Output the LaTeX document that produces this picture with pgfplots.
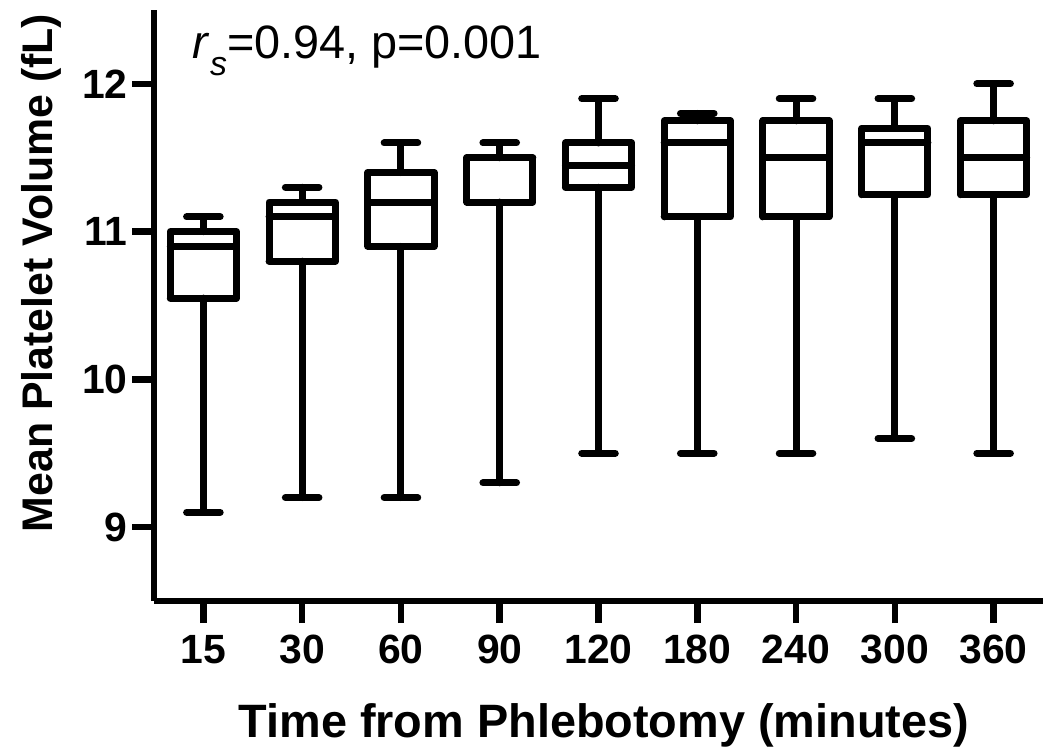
\documentclass[border=0pt]{standalone}
\usepackage{fontspec}
\setmainfont{Liberation Sans}
\usepackage{pgfplots}
\pgfplotsset{compat=1.18}
\begin{document}
\begin{tikzpicture}
\begin{axis}[
  scale only axis,
  width=444.5bp, height=295.5bp,
  xmin=-0.5, xmax=8.5, ymin=8.5, ymax=12.5,
  axis lines*=left,
  axis line style={line width=3.3bp, line cap=square},
  tick align=outside,
  major tick length=11bp,
  tick style={line width=3.3bp, black},
  xtick={0,1,2,3,4,5,6,7,8},
  xticklabels={15,30,60,90,120,180,240,300,360},
  ytick={9,10,11,12},
  /pgf/number format/assume math mode=true,
  ticklabel style={font=\bfseries\fontsize{20.5}{24}\selectfont},
  xticklabel style={inner sep=6bp},
  yticklabel style={inner sep=2bp},
  xlabel={Time from Phlebotomy (minutes)},
  ylabel={Mean Platelet Volume (fL)},
  xlabel style={font=\bfseries\fontsize{23.5}{28}\selectfont, at={([yshift=-68bp]axis description cs:0.506,0)}, anchor=base},
  ylabel style={font=\bfseries\fontsize{21.5}{26}\selectfont, at={([xshift=-56.5bp]axis description cs:0,0.555)}, anchor=center},
  unbounded coords=jump,
  clip=false,
]
% Each box: box outline, median, upper whisker + cap, lower whisker + cap
% 15 min: lw 9.1, lq 10.55, med 10.9, uq 11.0, uw 11.1
\addplot[black, line width=3.5bp, line join=round, line cap=round, mark=none] coordinates {
 (-0.335,10.55) (0.335,10.55) (0.335,11.0) (-0.335,11.0) (-0.335,10.55) (0,nan)
 (-0.335,10.9) (0.335,10.9) (0,nan)
 (0,11.0) (0,11.1) (0,nan) (-0.17,11.1) (0.17,11.1) (0,nan)
 (0,10.55) (0,9.1) (0,nan) (-0.17,9.1) (0.17,9.1)};
% 30 min: 9.2, 10.8, 11.1, 11.2, 11.3
\addplot[black, line width=3.5bp, line join=round, line cap=round, mark=none] coordinates {
 (0.665,10.8) (1.335,10.8) (1.335,11.2) (0.665,11.2) (0.665,10.8) (1,nan)
 (0.665,11.1) (1.335,11.1) (1,nan)
 (1,11.2) (1,11.3) (1,nan) (0.83,11.3) (1.17,11.3) (1,nan)
 (1,10.8) (1,9.2) (1,nan) (0.83,9.2) (1.17,9.2)};
% 60 min: 9.2, 10.9, 11.2, 11.4, 11.6
\addplot[black, line width=3.5bp, line join=round, line cap=round, mark=none] coordinates {
 (1.665,10.9) (2.335,10.9) (2.335,11.4) (1.665,11.4) (1.665,10.9) (2,nan)
 (1.665,11.2) (2.335,11.2) (2,nan)
 (2,11.4) (2,11.6) (2,nan) (1.83,11.6) (2.17,11.6) (2,nan)
 (2,10.9) (2,9.2) (2,nan) (1.83,9.2) (2.17,9.2)};
% 90 min: 9.3, 11.2, 11.5, 11.5, 11.6
\addplot[black, line width=3.5bp, line join=round, line cap=round, mark=none] coordinates {
 (2.665,11.2) (3.335,11.2) (3.335,11.5) (2.665,11.5) (2.665,11.2) (3,nan)
 (2.665,11.5) (3.335,11.5) (3,nan)
 (3,11.5) (3,11.6) (3,nan) (2.83,11.6) (3.17,11.6) (3,nan)
 (3,11.2) (3,9.3) (3,nan) (2.83,9.3) (3.17,9.3)};
% 120 min: 9.5, 11.3, 11.45, 11.6, 11.9
\addplot[black, line width=3.5bp, line join=round, line cap=round, mark=none] coordinates {
 (3.665,11.3) (4.335,11.3) (4.335,11.6) (3.665,11.6) (3.665,11.3) (4,nan)
 (3.665,11.45) (4.335,11.45) (4,nan)
 (4,11.6) (4,11.9) (4,nan) (3.83,11.9) (4.17,11.9) (4,nan)
 (4,11.3) (4,9.5) (4,nan) (3.83,9.5) (4.17,9.5)};
% 180 min: 9.5, 11.1, 11.6, 11.75, 11.8
\addplot[black, line width=3.5bp, line join=round, line cap=round, mark=none] coordinates {
 (4.665,11.1) (5.335,11.1) (5.335,11.75) (4.665,11.75) (4.665,11.1) (5,nan)
 (4.665,11.6) (5.335,11.6) (5,nan)
 (5,11.75) (5,11.8) (5,nan) (4.83,11.8) (5.17,11.8) (5,nan)
 (5,11.1) (5,9.5) (5,nan) (4.83,9.5) (5.17,9.5)};
% 240 min: 9.5, 11.1, 11.5, 11.75, 11.9
\addplot[black, line width=3.5bp, line join=round, line cap=round, mark=none] coordinates {
 (5.665,11.1) (6.335,11.1) (6.335,11.75) (5.665,11.75) (5.665,11.1) (6,nan)
 (5.665,11.5) (6.335,11.5) (6,nan)
 (6,11.75) (6,11.9) (6,nan) (5.83,11.9) (6.17,11.9) (6,nan)
 (6,11.1) (6,9.5) (6,nan) (5.83,9.5) (6.17,9.5)};
% 300 min: 9.6, 11.25, 11.6, 11.7, 11.9
\addplot[black, line width=3.5bp, line join=round, line cap=round, mark=none] coordinates {
 (6.665,11.25) (7.335,11.25) (7.335,11.7) (6.665,11.7) (6.665,11.25) (7,nan)
 (6.665,11.6) (7.335,11.6) (7,nan)
 (7,11.7) (7,11.9) (7,nan) (6.83,11.9) (7.17,11.9) (7,nan)
 (7,11.25) (7,9.6) (7,nan) (6.83,9.6) (7.17,9.6)};
% 360 min: 9.5, 11.25, 11.5, 11.75, 12.0
\addplot[black, line width=3.5bp, line join=round, line cap=round, mark=none] coordinates {
 (7.665,11.25) (8.335,11.25) (8.335,11.75) (7.665,11.75) (7.665,11.25) (8,nan)
 (7.665,11.5) (8.335,11.5) (8,nan)
 (8,11.75) (8,12.0) (8,nan) (7.83,12.0) (8.17,12.0) (8,nan)
 (8,11.25) (8,9.5) (8,nan) (7.83,9.5) (8.17,9.5)};
\node[anchor=base west, inner sep=0pt, font=\fontsize{23.5}{28}\selectfont] at (axis cs:-0.11,12.17) {\textit{r}\raisebox{-0.35em}{\fontsize{17}{20}\selectfont\textit{s}}=0.94, p=0.001};
\end{axis}
\pgfresetboundingbox
\path ([shift={(-77bp,-77bp)}]current axis.south west) rectangle ([shift={(3.5bp,5bp)}]current axis.north east);
\end{tikzpicture}
\end{document}
